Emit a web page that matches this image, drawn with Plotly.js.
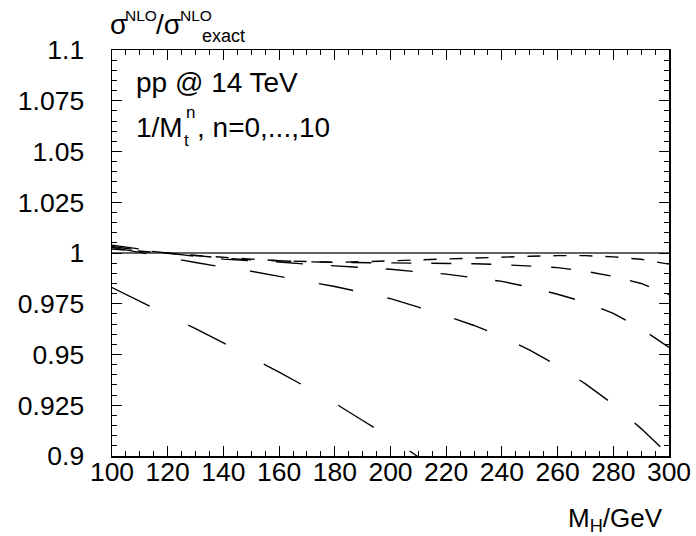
<!DOCTYPE html>
<html>
<head>
<meta charset="utf-8">
<script src="https://cdn.plot.ly/plotly-3.0.1.min.js"></script>
<style>html,body{margin:0;padding:0;background:#fff;}</style>
</head>
<body>
<div id="chart" style="width:696px;height:536px;"></div>
<script>
// Higgs mass grid (GeV)
const mH = [100,110,120,130,140,150,160,170,180,190,200,210,220,230,240,250,260,270,280,290,300];
const mH_A = [100,110,120,130,140,150,160,170,180,190,200,210,220];

// sigma^NLO / sigma^NLO_exact for successive orders of the 1/M_t expansion
const ratioA = [0.983,0.9763,0.9695,0.9627,0.9557,0.9487,0.9413,0.9338,0.926,0.9175,0.909,0.8995,0.890];
const ratioB = [1.0028,1.0002,0.9978,0.9953,0.993,0.991,0.9885,0.986,0.9835,0.9805,0.9775,0.9733,0.969,0.9643,0.9588,0.9522,0.9445,0.9355,0.9255,0.9135,0.9005];
const ratioC = [1.0039,1.0018,1.0,0.9983,0.997,0.9962,0.9956,0.9945,0.9936,0.993,0.992,0.9907,0.9896,0.9878,0.986,0.9832,0.9797,0.9757,0.9703,0.9628,0.9535];
const ratioD = [1.0032,1.0014,1.0,0.9986,0.9975,0.9966,0.996,0.9957,0.9954,0.9953,0.9952,0.995,0.9949,0.9947,0.9943,0.9937,0.9928,0.991,0.9885,0.985,0.9795];
const ratioE = [1.0020,1.0008,0.9998,0.9988,0.9978,0.997,0.9962,0.9957,0.9954,0.9957,0.9962,0.9966,0.997,0.9974,0.998,0.9984,0.9987,0.9987,0.9981,0.9969,0.9945];
const exactX = [100,300];
const exactY = [1,1];

const yTickVals = [0.9,0.925,0.95,0.975,1,1.025,1.05,1.075,1.1];
const yTickLabels = ["0.9","0.925","0.95","0.975","1","1.025","1.05","1.075","1.1"];
const xTickVals = [100,120,140,160,180,200,220,240,260,280,300];
const xTickLabels = ["100","120","140","160","180","200","220","240","260","280","300"];

const FONT = "Liberation Sans, Arial, Helvetica, sans-serif";

function curve(x, y, dash, name) {
  return {x: x, y: y, type: 'scatter', mode: 'lines', name: name,
          line: {color: '#000', width: 1.4, dash: dash}, hoverinfo: 'skip'};
}

const traces = [
  {x: exactX, y: exactY, type: 'scatter', mode: 'lines', name: 'exact',
   line: {color: '#333', width: 1.6}, hoverinfo: 'skip'},
  curve(mH_A, ratioA, '42px,43px', 'n=0'),
  curve(mH, ratioB, '35px,35px', 'n=2'),
  curve(mH, ratioC, '27px,28px', 'n=4'),
  curve(mH, ratioD, '20px,20px', 'n=6'),
  curve(mH, ratioE, '13px,13px', 'n=8')
];

// plot-area geometry (pixels) used only to place text labels
const L = 112, R = 669, T = 50, B = 456;
function px(p) { return (p - L) / (R - L); }
function py(p) { return (B - p) / (B - T); }
function ann(text, x, y, size, xanchor) {
  return {xref: 'paper', yref: 'paper', x: px(x), y: py(y), xanchor: xanchor || 'left',
          yanchor: 'middle', text: text, showarrow: false, borderpad: 0,
          font: {family: FONT, size: size, color: '#000'}};
}

const annotations = [
  ann('σ', 109, 24.5, 28),
  ann('NLO', 124, 15.5, 15.5),
  ann('/σ', 155, 24.5, 28),
  ann('NLO', 179, 15.5, 15.5),
  ann('exact', 201, 36.5, 18),
  ann('pp @ 14 TeV', 135, 83, 28),
  ann('1/M', 135, 127, 28),
  ann('t', 183, 140, 17),
  ann('n', 185, 112, 17),
  ann(', n=0,...,10', 196, 127, 28),
  ann('M<sub>H</sub>/GeV', 664, 519, 26, 'right')
];

const axisCommon = {
  showgrid: false, zeroline: false, showline: true, linecolor: '#000', linewidth: 1.5,
  mirror: 'ticks', ticks: 'inside', ticklen: 10, tickwidth: 1, tickcolor: '#000',
  tickfont: {family: FONT, size: 26.5, color: '#000'}
};

const layout = {
  width: 696, height: 536,
  margin: {l: L, r: 696 - R, t: T, b: 536 - B, pad: 0},
  paper_bgcolor: '#fff', plot_bgcolor: '#fff',
  showlegend: false,
  xaxis: Object.assign({}, axisCommon, {
    range: [100, 300], tickmode: 'array', tickvals: xTickVals, ticktext: xTickLabels,
    ticklabelstandoff: -8,
    minor: {tick0: 100, dtick: 5, ticks: 'inside', ticklen: 5, tickwidth: 1, tickcolor: '#000', showgrid: false}
  }),
  yaxis: Object.assign({}, axisCommon, {
    range: [0.9, 1.1], tickmode: 'array', tickvals: yTickVals, ticktext: yTickLabels,
    ticklabelstandoff: 21,
    minor: {tick0: 0.9, dtick: 0.005, ticks: 'inside', ticklen: 5, tickwidth: 1, tickcolor: '#000', showgrid: false}
  }),
  annotations: annotations
};

Plotly.newPlot('chart', traces, layout, {staticPlot: true, displayModeBar: false});
</script>
</body>
</html>
